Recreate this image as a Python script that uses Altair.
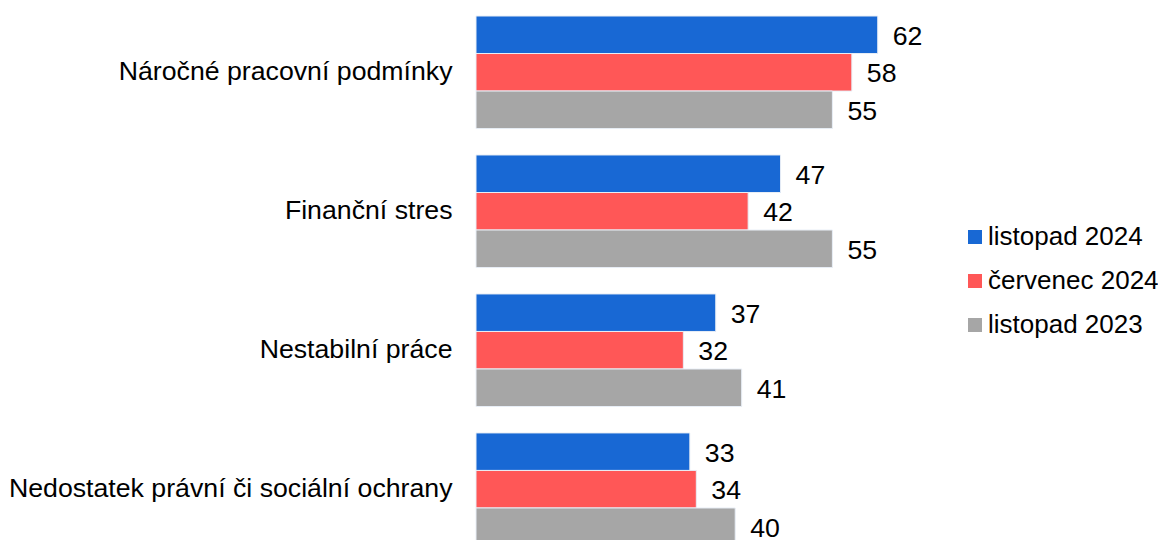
import altair as alt
import pandas as pd

categories = ["Náročné pracovní podmínky", "Finanční stres", "Nestabilní práce",
              "Nedostatek právní či sociální ochrany"]
series = ["listopad 2024", "červenec 2024", "listopad 2023"]
colors = ["#1868D4", "#FF5757", "#A6A6A6"]
v_nov2024 = [62, 47, 37, 33]
v_jul2024 = [58, 42, 32, 34]
v_nov2023 = [55, 55, 41, 40]

rows = []
for s, vals in zip(series, [v_nov2024, v_jul2024, v_nov2023]):
    for c, v in zip(categories, vals):
        rows.append({"kategorie": c, "obdobi": s, "hodnota": v})
df = pd.DataFrame(rows)

FONT = "Liberation Sans, Arial, sans-serif"
FS = 26.7

y_enc = alt.Y("kategorie:N", sort=categories, title=None,
              scale=alt.Scale(range=[8, 537.5], paddingInner=0.19, paddingOuter=0),
              axis=alt.Axis(ticks=False, domain=False, labelFontSize=FS, labelLimit=600,
                            labelPadding=24, labelColor="#000000", labelFont=FONT))
yoff = alt.YOffset("obdobi:N", sort=series, scale=alt.Scale(paddingInner=0, paddingOuter=0))

base = alt.Chart(df).encode(y=y_enc, yOffset=yoff)

bars = base.mark_bar(stroke="#E8EEF6", strokeWidth=1, clip=False).encode(
    x=alt.X("hodnota:Q", scale=alt.Scale(domain=[0, 105.25], nice=False, zero=True), axis=None),
    color=alt.Color("obdobi:N", sort=series,
                    scale=alt.Scale(domain=series, range=colors),
                    legend=alt.Legend(title=None, orient="none", legendX=486, legendY=216,
                                      symbolType="square", symbolSize=196, symbolStrokeWidth=0,
                                      labelFontSize=26, labelFont=FONT, labelColor="#000000",
                                      labelOffset=0, labelLimit=400, rowPadding=18)),
)

labels = base.mark_text(align="left", baseline="middle", dx=15, dy=2, fontSize=FS,
                        font=FONT, color="#000000", clip=False).encode(
    x=alt.X("hodnota:Q"),
    text=alt.Text("hodnota:Q"),
)

chart = (bars + labels).properties(
    width=682, height=532,
    autosize=alt.AutoSizeParams(type="none"),
    padding={"left": 468, "top": 0, "right": 0, "bottom": 0},
).configure(font=FONT).configure_view(stroke=None, strokeWidth=0)

chart.save("out.html", embed_options={"renderer": "svg", "actions": False})
